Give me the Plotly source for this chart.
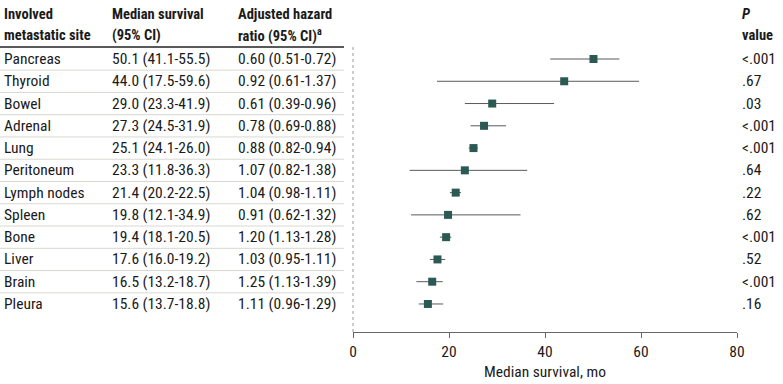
import plotly.graph_objects as go

sites = ["Pancreas", "Thyroid", "Bowel", "Adrenal", "Lung", "Peritoneum",
         "Lymph nodes", "Spleen", "Bone", "Liver", "Brain", "Pleura"]
median = [50.1, 44.0, 29.0, 27.3, 25.1, 23.3, 21.4, 19.8, 19.4, 17.6, 16.5, 15.6]
ci_low = [41.1, 17.5, 23.3, 24.5, 24.1, 11.8, 20.2, 12.1, 18.1, 16.0, 13.2, 13.7]
ci_high = [55.5, 59.6, 41.9, 31.9, 26.0, 36.3, 22.5, 34.9, 20.5, 19.2, 18.7, 18.8]
hr_text = ["0.60 (0.51-0.72)", "0.92 (0.61-1.37)", "0.61 (0.39-0.96)", "0.78 (0.69-0.88)",
           "0.88 (0.82-0.94)", "1.07 (0.82-1.38)", "1.04 (0.98-1.11)", "0.91 (0.62-1.32)",
           "1.20 (1.13-1.28)", "1.03 (0.95-1.11)", "1.25 (1.13-1.39)", "1.11 (0.96-1.29)"]
p_values = ["<.001", ".67", ".03", "<.001", "<.001", ".64", ".22", ".62", "<.001", ".52", "<.001", ".16"]
x_ticks = [0, 20, 40, 60, 80]

W, H = 783, 384
FONT = "Liberation Sans Narrow, Roboto Condensed, DejaVu Sans Condensed, sans-serif"
FS = 15.5
FSH = 14.5
TXT = "#1a1a1a"
n = len(sites)
rows = list(range(n))

fig = go.Figure()
fig.add_trace(go.Scatter(
    x=median, y=rows, mode="markers",
    marker=dict(symbol="square", size=8, color="#2b5954"),
    error_x=dict(type="data", symmetric=False,
                 array=[h - m for h, m in zip(ci_high, median)],
                 arrayminus=[m - l for m, l in zip(median, ci_low)],
                 color="#5a5a5a", thickness=1, width=0),
    showlegend=False, hoverinfo="skip"))

annotations = []
def txt(x, y, s, yref="y", bold=False, size=FS):
    if bold:
        s = "<b>" + s + "</b>"
    annotations.append(dict(x=(x - 2) / W, y=y, xref="paper", yref=yref, text=s, showarrow=False,
                            xanchor="left", yanchor="middle",
                            font=dict(family=FONT, size=size, color=TXT)))

for i in rows:
    txt(4, i, sites[i])
    txt(112, i, f"{median[i]:.1f} ({ci_low[i]:.1f}-{ci_high[i]:.1f})")
    txt(238, i, hr_text[i])
    txt(742, i, p_values[i])

# headers
hy1 = 1 - 14 / H
hy2 = 1 - 35 / H
txt(4, hy1, "Involved", yref="paper", bold=True, size=FSH)
txt(4, hy2, "metastatic site", yref="paper", bold=True, size=FSH)
txt(112, hy1, "Median survival", yref="paper", bold=True, size=FSH)
txt(112, hy2, "(95% CI)", yref="paper", bold=True, size=FSH)
txt(238, hy1, "Adjusted hazard", yref="paper", bold=True, size=FSH)
txt(238, hy2, "ratio (95% CI)<sup>a</sup>", yref="paper", bold=True, size=FSH)
txt(742, hy1, "<i>P</i>", yref="paper", bold=True, size=FSH)
txt(742, hy2, "value", yref="paper", bold=True, size=FSH)

shapes = [dict(type="line", xref="paper", yref="paper", x0=0, x1=344 / W,
               y0=1 - 47 / H, y1=1 - 47 / H, line=dict(color="#222", width=1.5))]
for i in range(n - 1):
    shapes.append(dict(type="line", xref="paper", yref="y", x0=0, x1=344 / W,
                       y0=i + 0.5, y1=i + 0.5, line=dict(color="#d8d8d0", width=1)))
shapes.append(dict(type="line", xref="paper", yref="paper", x0=353 / W, x1=353 / W,
                   y0=1 - 47 / H, y1=1 - 332 / H, line=dict(color="#999", width=1, dash="dot")))

row0, step, axis_px = 59.0, 22.27, 332.0
fig.update_layout(
    width=W, height=H, margin=dict(l=0, r=0, t=0, b=0, autoexpand=False),
    paper_bgcolor="white", plot_bgcolor="white",
    font=dict(family=FONT, size=FS, color=TXT),
    xaxis=dict(domain=[353 / W, 737 / W], range=[0, 80], tickvals=x_ticks, automargin=False,
               showgrid=False, zeroline=False, showline=True, linecolor="#666", linewidth=1,
               ticks="outside", ticklen=5, tickcolor="#666",
               tickfont=dict(family=FONT, size=FS, color=TXT),
               title=dict(text="Median survival, mo", font=dict(family=FONT, size=FS, color=TXT),
                          standoff=6)),
    yaxis=dict(domain=[(H - axis_px) / H, 1], automargin=False,
               range=[(axis_px - row0) / step, -row0 / step],
               showgrid=False, zeroline=False, showline=False, showticklabels=False, ticks=""),
    annotations=annotations, shapes=shapes)

fig.write_html("out.html", config={"displayModeBar": False},
               post_script="document.body.style.margin='0';document.body.style.overflow='hidden';")
